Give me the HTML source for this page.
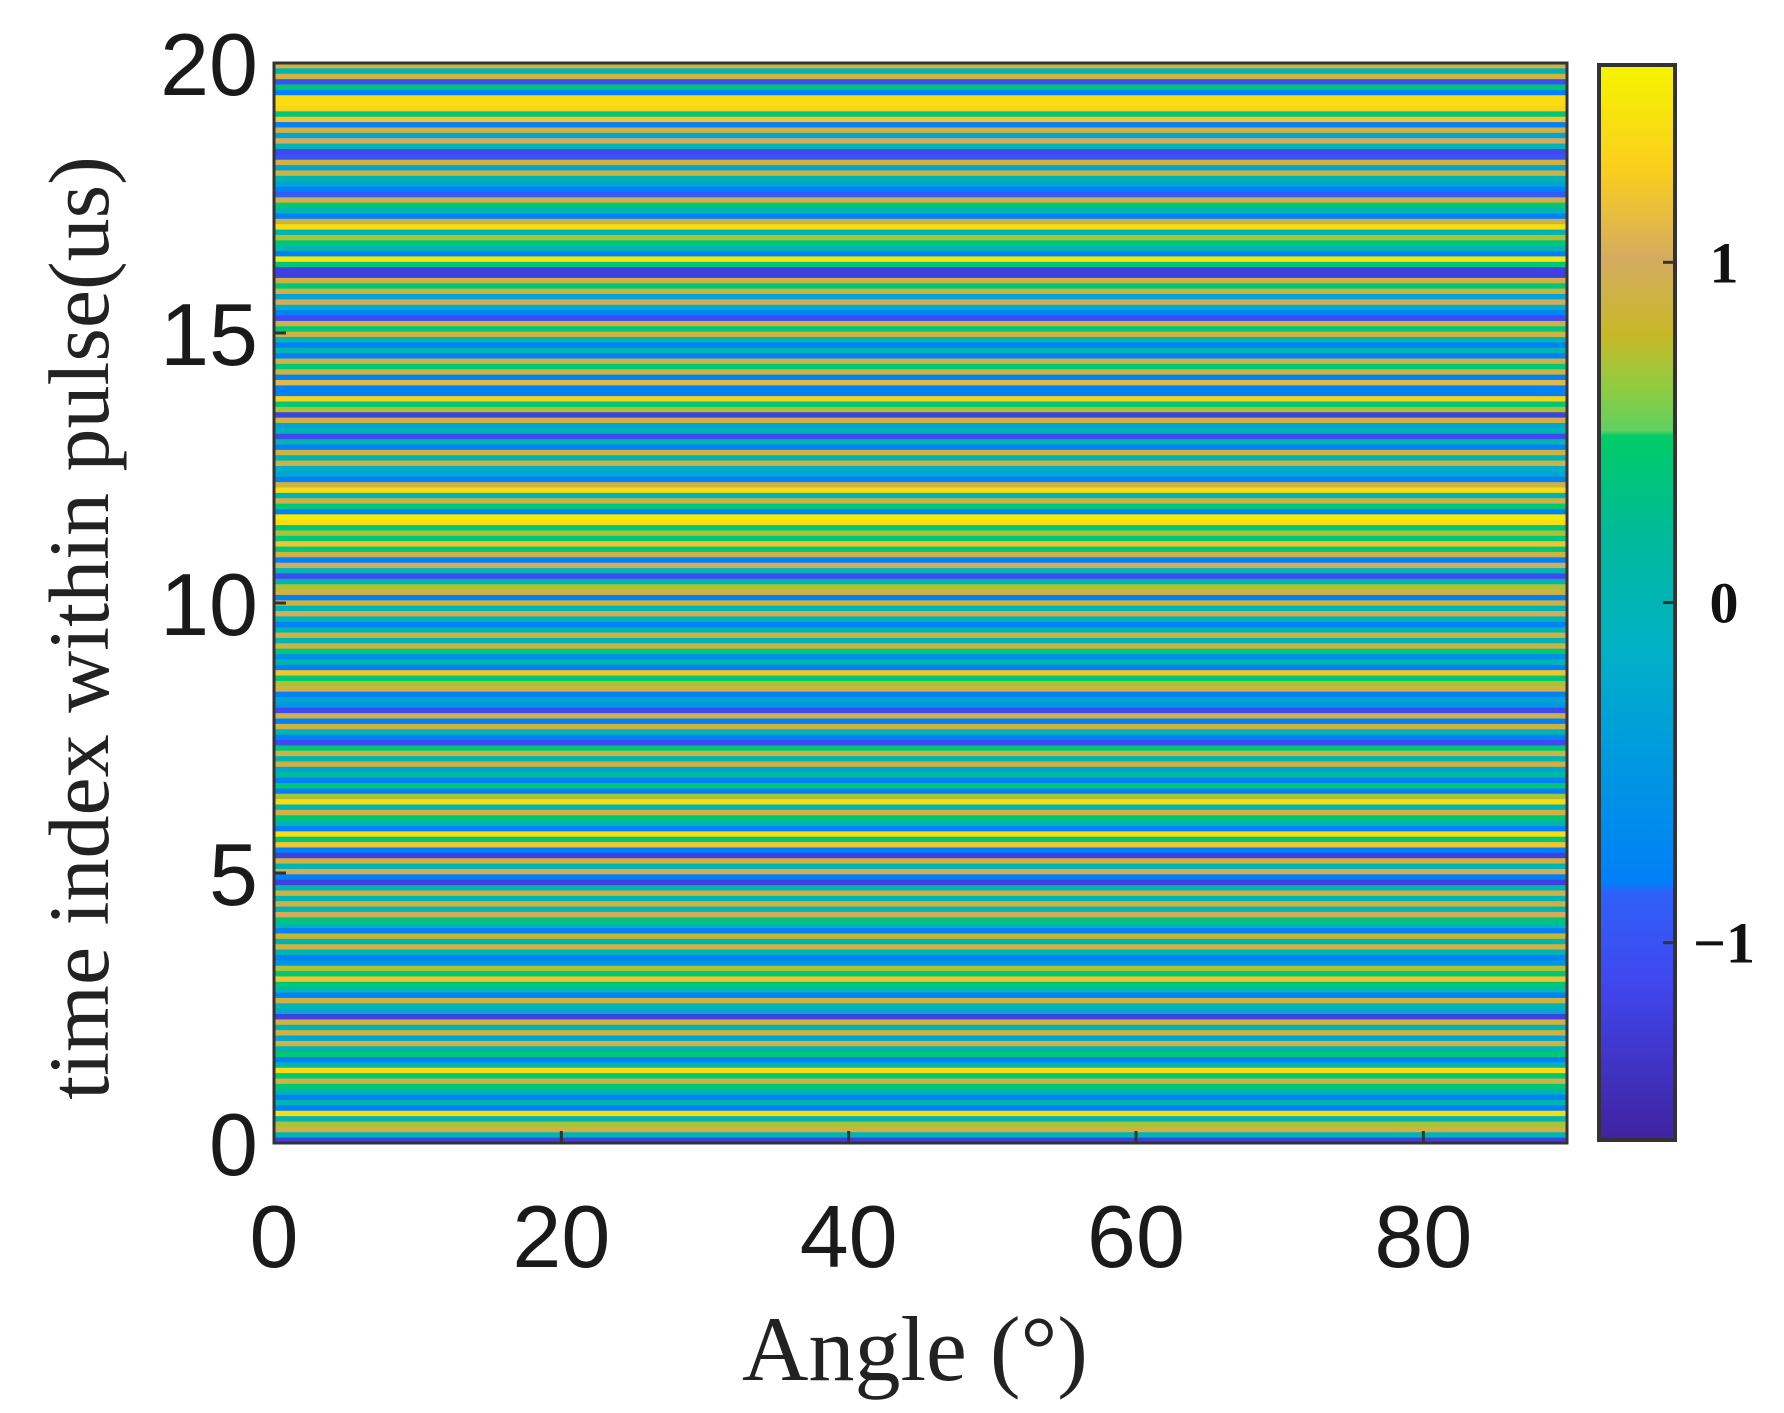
<!DOCTYPE html>
<html><head><meta charset="utf-8">
<style>
html,body{margin:0;padding:0;background:#fff;}
svg{display:block;}
.tk{font-family:"Liberation Sans",Arial,sans-serif;font-size:88px;fill:#1a1a1a;}
.cb{font-family:"Liberation Serif",serif;font-size:58px;font-weight:bold;fill:#111;}
.ttl{font-family:"Liberation Serif",serif;fill:#222;}
</style></head>
<body>
<svg id="chart" width="1784" height="1413" viewBox="0 0 1784 1413" xmlns="http://www.w3.org/2000/svg">
<g id="cells"></g>
<rect x="274" y="63" width="1293" height="1080" fill="none" stroke="#333" stroke-width="3"/>
<g id="axes"></g>
<defs><linearGradient id="cmap" x1="0" y1="1" x2="0" y2="0"></linearGradient></defs>
<rect x="1599" y="65" width="76" height="1075" fill="url(#cmap)" stroke="#333" stroke-width="4"/>
<g id="cbaxis"></g>
<text class="ttl" x="915" y="1380" text-anchor="middle" style="font-size:92px">Angle (°)</text>
<text class="ttl" transform="translate(108,628) rotate(-90)" text-anchor="middle" style="font-size:86px">time index within pulse(us)</text>
</svg>
<script>
// rows listed from top (t=20) to bottom (t=0)
const rowValues = [
0.9,0.0,0.9,-1.0,0.4,-0.8,1.4,1.4,1.3,0.4,1.2,-0.8,0.9,-0.3,1.0,0.0,-1.1,-1.0,0.9,-0.3,0.9,0.0,-0.3,-0.8,-0.9,0.9,0.4,0.0,-0.8,0.9,1.4,0.0,0.7,0.4,0.0,-0.8,1.5,0.4,-1.2,-1.2,0.9,0.4,0.9,-0.3,1.0,-0.2,-0.8,-1.1,0.9,0.4,0.9,0.0,-0.8,0.0,-0.8,0.9,0.4,0.9,-0.8,1.1,-0.8,-0.8,1.3,0.4,0.7,
-1.2,0.9,-0.3,0.0,-1.1,0.0,-0.8,0.9,0.0,0.9,-0.2,-0.3,-0.8,0.9,1.4,0.0,0.9,0.4,-0.8,1.5,1.4,0.4,0.7,0.4,1.2,0.4,0.9,-0.8,1.0,0.0,-1.1,0.0,0.7,0.9,-0.8,0.9,0.0,1.0,0.0,-0.8,0.0,0.9,0.0,0.9,0.4,-0.6,0.0,-0.8,1.2,0.4,0.7,0.9,-0.8,-0.3,-0.5,-1.1,0.9,-0.8,0.9,0.0,-0.8,-1.1,0.4,0.9,0.0,0.9,-0.3,
0.2,-0.8,0.4,-0.8,0.7,1.4,0.0,0.9,0.4,0.0,-0.8,1.4,0.4,1.2,-0.8,-1.2,0.9,0.0,1.0,-0.8,-1.2,0.0,0.9,0.0,0.9,0.0,1.0,0.4,0.0,-0.8,0.8,0.0,0.9,0.0,-0.8,-0.5,0.7,0.4,1.2,0.4,0.0,-0.8,0.9,0.0,-0.3,-1.2,0.9,0.0,0.9,-0.3,0.9,0.0,0.4,-0.8,0.0,1.4,0.4,0.9,0.4,0.0,-0.8,0.0,-0.8,1.4,0.0,0.7,0.9,0.0,-1.2
];
const xTicks = [0,20,40,60,80];
const yTicks = [0,5,10,15,20];
const cbTicks = [-1,0,1];
const cbTickLabels = ["\u22121","0","1"];
const xDomain = [0,90], yDomain = [0,20], cDomain = [-1.58,1.58];

const X0=274,X1=1567,Y0=1143,Y1=63, CBT=65, CBB=1140;
const sx = v => X0+(v-xDomain[0])/(xDomain[1]-xDomain[0])*(X1-X0);
const sy = v => Y0-(v-yDomain[0])/(yDomain[1]-yDomain[0])*(Y0-Y1);
const sc = v => CBB-(v-cDomain[0])/(cDomain[1]-cDomain[0])*(CBB-CBT);
const stops=[[0,[64,34,160]],[0.15,[64,72,240]],[0.23,[48,96,248]],[0.24,[0,128,248]],[0.35,[0,152,224]],[0.45,[0,176,200]],[0.55,[0,184,160]],[0.655,[0,204,102]],[0.66,[96,208,96]],[0.70,[144,204,64]],[0.75,[200,184,40]],[0.82,[212,172,96]],[0.9,[250,205,30]],[1,[245,245,0]]];
function cmap(v){let t=(v-cDomain[0])/(cDomain[1]-cDomain[0]);t=Math.max(0,Math.min(1,t));
for(let i=1;i<stops.length;i++){if(t<=stops[i][0]){const a=stops[i-1],b=stops[i],f=(t-a[0])/(b[0]-a[0]);
return `rgb(${a[1].map((c,k)=>Math.round(c+(b[1][k]-c)*f)).join(',')})`;}}return 'rgb(245,245,0)';}
const NS='http://www.w3.org/2000/svg';
const g=document.getElementById('cells');
const n=rowValues.length;
rowValues.forEach((v,i)=>{
  const tTop=yDomain[1]-i*(yDomain[1]-yDomain[0])/n, tBot=yDomain[1]-(i+1)*(yDomain[1]-yDomain[0])/n;
  const r=document.createElementNS(NS,'rect');
  
  
  r.setAttribute('x',sx(xDomain[0]));r.setAttribute('width',sx(xDomain[1])-sx(xDomain[0]));
  r.setAttribute('y',sy(tTop));r.setAttribute('height',sy(tBot)-sy(tTop)+0.6);
  r.setAttribute('fill',cmap(v));g.appendChild(r);
});
const ax=document.getElementById('axes');
xTicks.forEach(v=>{
  const l=document.createElementNS(NS,'line');
  
  
  l.setAttribute('x1',sx(v));l.setAttribute('x2',sx(v));l.setAttribute('y1',Y0);l.setAttribute('y2',Y0-12);
  l.setAttribute('stroke','#333');l.setAttribute('stroke-width','3');ax.appendChild(l);
  const t=document.createElementNS(NS,'text');
  
  
  t.setAttribute('class','tk');t.setAttribute('x',sx(v));t.setAttribute('y',1267);t.setAttribute('text-anchor','middle');
  t.textContent=v;ax.appendChild(t);
});
yTicks.forEach(v=>{
  const l=document.createElementNS(NS,'line');
  
  
  l.setAttribute('x1',X0);l.setAttribute('x2',X0+12);l.setAttribute('y1',sy(v));l.setAttribute('y2',sy(v));
  l.setAttribute('stroke','#333');l.setAttribute('stroke-width','3');ax.appendChild(l);
  const t=document.createElementNS(NS,'text');
  
  
  t.setAttribute('class','tk');t.setAttribute('x',258);t.setAttribute('y',sy(v)+32);t.setAttribute('text-anchor','end');
  t.textContent=v;ax.appendChild(t);
});
const grad=document.getElementById('cmap');
stops.forEach(s=>{const st=document.createElementNS(NS,'stop');st.setAttribute('offset',s[0]);st.setAttribute('stop-color',`rgb(${s[1].join(',')})`);grad.appendChild(st);});
const cb=document.getElementById('cbaxis');
cbTicks.forEach((v,i)=>{
  const l=document.createElementNS(NS,'line');
  
  
  l.setAttribute('x1',1663);l.setAttribute('x2',1675);l.setAttribute('y1',sc(v));l.setAttribute('y2',sc(v));
  l.setAttribute('stroke','#333');l.setAttribute('stroke-width','3');cb.appendChild(l);
  const t=document.createElementNS(NS,'text');
  
  
  t.setAttribute('class','cb');t.setAttribute('x',1724);t.setAttribute('y',sc(v)+20);t.setAttribute('text-anchor','middle');
  t.textContent=cbTickLabels[i];cb.appendChild(t);
});
</script>
</body></html>
